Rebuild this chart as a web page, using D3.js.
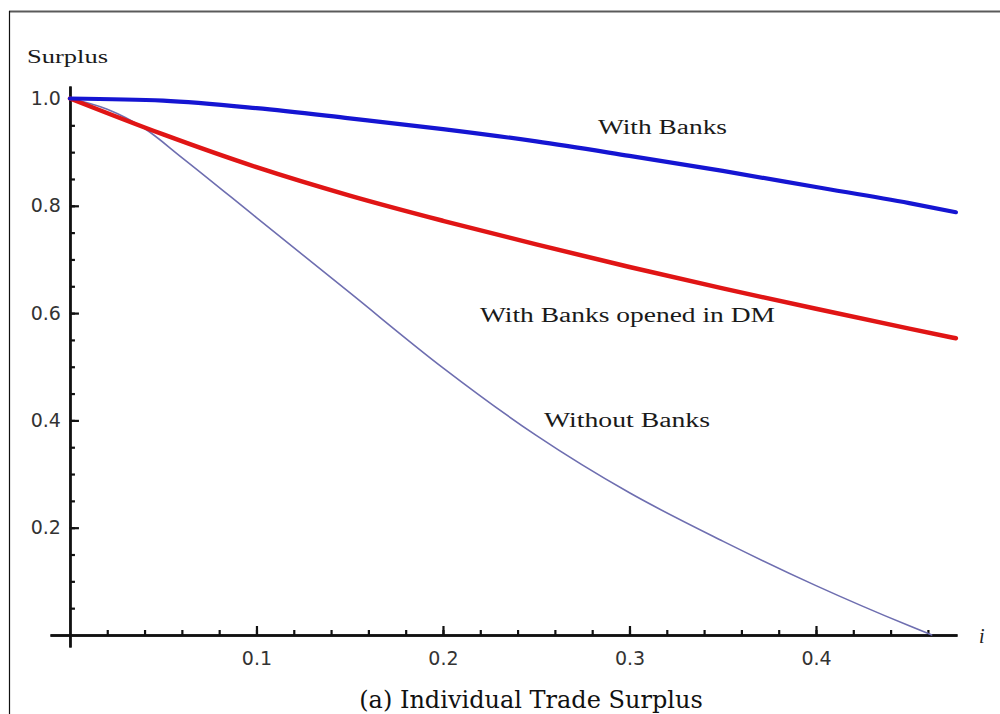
<!DOCTYPE html>
<html>
<head>
<meta charset="utf-8">
<script src="https://cdn.jsdelivr.net/npm/d3@7"></script>
<style>
  body { margin: 0; background: #fff; }
  svg { display: block; }
</style>
</head>
<body>
<svg class="surplus-chart" width="1000" height="714"></svg>
<script>
// values
const iWith = [0, 0.05, 0.1, 0.15, 0.2, 0.25, 0.3, 0.35, 0.4, 0.45, 0.475];
const withBanks = [1.0, 0.996, 0.982, 0.963, 0.943, 0.92, 0.893, 0.865, 0.835, 0.805, 0.788];
const withBanksDM = [1.0, 0.933, 0.872, 0.819, 0.772, 0.728, 0.686, 0.646, 0.608, 0.571, 0.553];
const iWithout = [0, 0.02, 0.04, 0.06, 0.1, 0.15, 0.2, 0.25, 0.3, 0.35, 0.4, 0.45, 0.462];
const withoutBanks = [1.0, 0.98, 0.944, 0.89, 0.778, 0.638, 0.498, 0.372, 0.265, 0.175, 0.092, 0.017, 0.0];

const xMajor = [0.1, 0.2, 0.3, 0.4];
const xMinor = d3.range(1, 24).map(k => k * 0.02);
const yMajor = [0.2, 0.4, 0.6, 0.8, 1.0];
const yMinor = d3.range(1, 21).map(k => k * 0.05);

const svg = d3.select("svg.surplus-chart");

// frame
svg.append("line")
   .attr("x1", 9).attr("y1", 11.5).attr("x2", 1000).attr("y2", 11.5)
   .attr("stroke", "#5a5a5a").attr("stroke-width", 2);
svg.append("line")
   .attr("x1", 9.5).attr("y1", 11).attr("x2", 9.5).attr("y2", 714)
   .attr("stroke", "#111").attr("stroke-width", 1.2);

const xScale = d3.scaleLinear().domain([-0.0107, 0.4756]).range([50, 957]);
const yScale = d3.scaleLinear().domain([-0.0224, 1.0233]).range([647, 86]);

const axisColor = "#111";

function styleAxis(g) {
   g.select(".domain").attr("stroke", axisColor).attr("stroke-width", 2.4);
   g.selectAll(".tick line").attr("stroke", axisColor).attr("stroke-width", 2.2);
   g.selectAll(".tick text")
      .attr("fill", "#333")
      .style("font-family", "'DejaVu Sans', sans-serif")
      .style("font-size", "19px");
}

// x axis: minor then major ticks
svg.append("g")
   .attr("transform", `translate(0,${yScale(0)})`)
   .call(d3.axisBottom(xScale).tickValues(xMinor).tickSize(-5).tickSizeOuter(0).tickFormat(""))
   .call(styleAxis);
svg.append("g")
   .attr("transform", `translate(0,${yScale(0)})`)
   .call(d3.axisBottom(xScale).tickValues(xMajor).tickSize(-9).tickSizeOuter(0)
      .tickPadding(17).tickFormat(d3.format(".1f")))
   .call(styleAxis);

// y axis
svg.append("g")
   .attr("transform", `translate(${xScale(0)},0)`)
   .call(d3.axisLeft(yScale).tickValues(yMinor).tickSize(-5).tickSizeOuter(0).tickFormat(""))
   .call(styleAxis);
svg.append("g")
   .attr("transform", `translate(${xScale(0)},0)`)
   .call(d3.axisLeft(yScale).tickValues(yMajor).tickSize(-9).tickSizeOuter(0)
      .tickPadding(9).tickFormat(d3.format(".1f")))
   .call(styleAxis);

// curves
const line = d3.line()
   .x(d => xScale(d[0]))
   .y(d => yScale(d[1]))
   .curve(d3.curveMonotoneX);

const series = [
   { xs: iWithout, ys: withoutBanks, color: "#6e6eb0", width: 1.6 },
   { xs: iWith, ys: withBanksDM, color: "#e01515", width: 4.5 },
   { xs: iWith, ys: withBanks, color: "#1515d2", width: 4.2 }
];

svg.append("g")
   .selectAll("path")
   .data(series)
   .join("path")
   .attr("d", s => line(d3.zip(s.xs, s.ys)))
   .attr("fill", "none")
   .attr("stroke", s => s.color)
   .attr("stroke-width", s => s.width)
   .attr("stroke-linecap", "round");

// text labels
const serif = "'Liberation Serif', 'Times New Roman', serif";
const labels = [
   { text: "Surplus", x: 27, y: 63, len: 81, size: 18 },
   { text: "With Banks", x: 598, y: 134, len: 129, size: 20 },
   { text: "With Banks opened in DM", x: 480, y: 322, len: 295, size: 20 },
   { text: "Without Banks", x: 544, y: 427, len: 166, size: 20 }
];

svg.append("g")
   .selectAll("text")
   .data(labels)
   .join("text")
   .attr("x", d => d.x)
   .attr("y", d => d.y)
   .attr("textLength", d => d.len)
   .attr("lengthAdjust", "spacingAndGlyphs")
   .attr("fill", "#1a1a1a")
   .style("font-family", serif)
   .style("font-size", d => d.size + "px")
   .text(d => d.text);

svg.append("text")
   .attr("x", 979)
   .attr("y", 643)
   .attr("fill", "#222")
   .style("font-family", serif)
   .style("font-style", "italic")
   .style("font-size", "20px")
   .text("i");

svg.append("text")
   .attr("x", 531)
   .attr("y", 708)
   .attr("text-anchor", "middle")
   .attr("fill", "#111")
   .style("font-family", "'DejaVu Serif', serif")
   .style("font-size", "24px")
   .text("(a) Individual Trade Surplus");
</script>
</body>
</html>
